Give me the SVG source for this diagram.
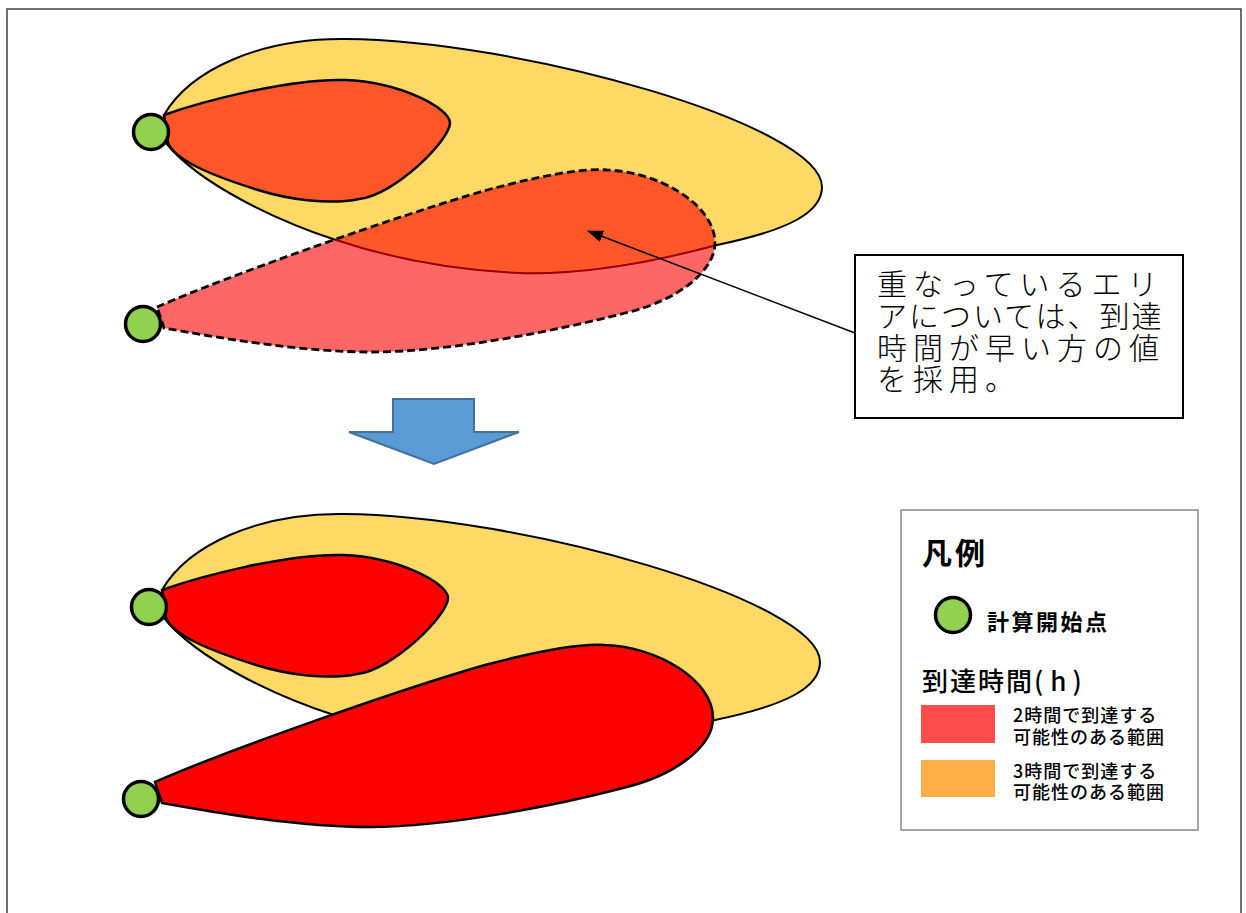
<svg xmlns="http://www.w3.org/2000/svg" xmlns:xlink="http://www.w3.org/1999/xlink" width="1246" height="913" viewBox="0 0 1246 913">
<style>
.jp{font-family:"Noto Sans CJK JP","Noto Sans CJK SC",sans-serif;fill:#000}
.yellow{fill:#FFD966;stroke:#000;stroke-width:2}
.semi{fill:#FF0000;fill-opacity:0.6;stroke:#000;stroke-width:2.5}
.solid{fill:#FF0000;stroke:#000;stroke-width:2.5}
.dash{fill:#FF0000;fill-opacity:0.6;stroke:#000;stroke-width:2.8;stroke-dasharray:8 4}
.pt{fill:#92D050;stroke:#000;stroke-width:3.5}
</style>
<defs>
<path id="pYellow" d="M164,115 C190,70 260,38 345,39 C520,40 822,125 822,187 C822,212 790,230 717,245 C650,263 580,275 519,273 C450,270 390,258 336,240 C280,222 200,185 166,143 Z"/>
<path id="pInner" d="M164,115 C200,102 290,78 345,80 C400,82 450,108 450,123 C450,140 395,195 359,199 C330,205 290,200 258,190 C210,175 175,160 168,143 Z"/>
<path id="pLower" d="M157,307 C230,275 400,215 487,190 C540,176 580,168 607,170 C660,172 715,205 715,243 C715,270 680,300 625,313 C560,330 450,352 372,352 C300,352 220,338 164,328 Z"/>
<marker id="ah" markerWidth="16" markerHeight="12" refX="15" refY="6" orient="auto" markerUnits="userSpaceOnUse" viewBox="0 0 16 12">
<path d="M0,0 L16,6 L0,12 Z" fill="#000"/>
</marker>
</defs>
<rect x="0" y="0" width="1246" height="913" fill="#fff"/>
<rect id="frame" x="7" y="9" width="1234" height="950" fill="none" stroke="#404040" stroke-width="1.5"/>

<g id="top-panel">
<g id="top-yellow"><use xlink:href="#pYellow" class="yellow"/></g>
<g id="top-inner"><use xlink:href="#pInner" class="semi"/></g>
<g id="top-lower"><use xlink:href="#pLower" class="dash"/></g>
<g id="top-start1"><circle cx="151" cy="132" r="17.5" class="pt"/></g>
<g id="top-start2"><circle cx="143" cy="324" r="17.5" class="pt"/></g>
</g>

<g id="down-arrow">
<polygon points="393,399 474,399 474,432 519,432 434,464 349,432 393,432" fill="#5B9BD5" stroke="#41719C" stroke-width="2"/>
</g>

<g id="bottom-panel" transform="translate(-2,475)">
<g id="bot-yellow"><use xlink:href="#pYellow" class="yellow"/></g>
<g id="bot-inner"><use xlink:href="#pInner" class="solid"/></g>
<g id="bot-lower"><use xlink:href="#pLower" class="solid"/></g>
<g id="bot-start1"><circle cx="151" cy="132" r="17.5" class="pt"/></g>
<g id="bot-start2"><circle cx="143" cy="324" r="17.5" class="pt"/></g>
</g>

<g id="callout">
<rect x="855" y="255" width="328" height="163" fill="#fff" stroke="#000" stroke-width="2"/>
<text class="jp" x="877" y="295" font-size="30" font-weight="300" letter-spacing="6">重なっているエリ</text>
<text class="jp" x="877" y="327" font-size="30" font-weight="300" letter-spacing="2">アについては、到達</text>
<text class="jp" x="877" y="359" font-size="30" font-weight="300" letter-spacing="6">時間が早い方の値</text>
<text class="jp" x="877" y="390" font-size="30" font-weight="300" letter-spacing="6">を採用。</text>
</g>

<g id="connectors">
<line x1="855" y1="333" x2="588" y2="231" stroke="#000" stroke-width="1.5" marker-end="url(#ah)"/>
</g>

<g id="legend">
<rect x="901" y="510" width="297" height="320" fill="#fff" stroke="#888" stroke-width="1.5"/>
<text class="jp" x="922" y="564" font-size="30" font-weight="700" letter-spacing="3">凡例</text>
<circle cx="953" cy="615" r="17.5" class="pt"/>
<text class="jp" x="987" y="630" font-size="22" font-weight="700" letter-spacing="2.5">計算開始点</text>
<text class="jp" x="922" y="691" font-size="26" font-weight="500" letter-spacing="2">到達時間(<tspan dx="5">h</tspan><tspan dx="4">)</tspan></text>
<rect x="921" y="705" width="74" height="38" fill="#FF4D4D"/>
<text class="jp" x="1013" y="722" font-size="18" font-weight="500" letter-spacing="1">2時間で到達する</text>
<text class="jp" x="1013" y="744" font-size="18" font-weight="500" letter-spacing="1">可能性のある範囲</text>
<rect x="921" y="760" width="74" height="37" fill="#FFAD47"/>
<text class="jp" x="1013" y="778" font-size="18" font-weight="500" letter-spacing="1">3時間で到達する</text>
<text class="jp" x="1013" y="799" font-size="18" font-weight="500" letter-spacing="1">可能性のある範囲</text>
</g>
</svg>
